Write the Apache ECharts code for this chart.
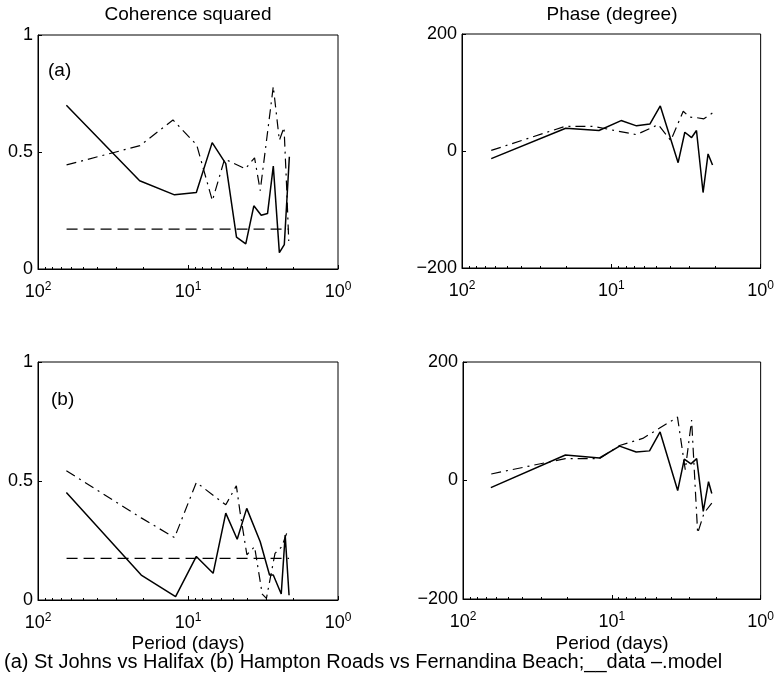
<!DOCTYPE html>
<html>
<head>
<meta charset="utf-8">
<script src="https://cdn.jsdelivr.net/npm/echarts@6/dist/echarts.min.js"></script>
<style>
  html, body { margin: 0; padding: 0; background: #fff; }
  #chart { width: 777px; height: 677px; }
</style>
</head>
<body>
<div id="chart"></div>
<script>
// periods (days) and values
const cohA_dataP = [64.7, 21, 12.3, 8.8, 6.9, 5.6, 4.75, 4.12, 3.64, 3.25, 2.95, 2.7, 2.46, 2.28, 2.11];
const cohA_data = [0.70, 0.377, 0.317, 0.327, 0.54, 0.45, 0.136, 0.107, 0.27, 0.23, 0.237, 0.44, 0.07, 0.104, 0.48];
const cohA_modelP = [64.5, 20.9, 12.6, 8.75, 6.88, 5.7, 4.15, 3.6, 3.3, 2.7, 2.46, 2.29, 2.2, 2.13];
const cohA_model = [0.445, 0.527, 0.637, 0.53, 0.292, 0.47, 0.428, 0.475, 0.335, 0.78, 0.55, 0.605, 0.35, 0.12];

const cohB_dataP = [64.7, 20.5, 12.1, 8.8, 6.8, 5.6, 4.7, 4.06, 3.3, 2.86, 2.7, 2.39, 2.25, 2.12];
const cohB_data = [0.452, 0.105, 0.014, 0.183, 0.112, 0.365, 0.255, 0.385, 0.245, 0.105, 0.105, 0.025, 0.273, 0.02];
const cohB_modelP = [64.7, 20.5, 12.3, 8.8, 5.6, 4.76, 4.5, 4.05, 3.6, 3.2, 3.0, 2.63, 2.37, 2.2];
const cohB_model = [0.543, 0.345, 0.262, 0.494, 0.40, 0.48, 0.37, 0.19, 0.224, 0.025, 0.007, 0.196, 0.224, 0.28];

const sigP = [64.5, 2.12];
const sigA = [0.17, 0.17];
const sigB = [0.175, 0.175];

const phaseA_dataP = [63.7, 20.2, 12.1, 8.6, 6.78, 5.52, 4.7, 3.57, 3.22, 2.9, 2.69, 2.43, 2.25, 2.1];
const phaseA_data = [-13, 39, 35, 52, 43, 46, 77, -20, 32, 23, 35, -71, -5, -24];
const phaseA_modelP = [63.7, 20.5, 13, 9.5, 6.8, 4.85, 4.0, 3.3, 3.0, 2.69, 2.4, 2.1];
const phaseA_model = [1, 42, 42, 35, 28, 45, 18, 68, 58, 57, 55, 65];

const phaseB_dataP = [65, 20.5, 12.1, 8.87, 6.86, 5.58, 4.74, 3.61, 3.26, 2.94, 2.69, 2.43, 2.24, 2.13];
const phaseB_data = [-12, 43, 38, 58, 48, 50, 82, -17, 36, 28, 37, -52, -2, -22];
const phaseB_modelP = [64.6, 20.5, 12.1, 8.87, 6.2, 4.8, 3.62, 3.21, 2.91, 2.65, 2.40, 2.13];
const phaseB_model = [11, 37, 37, 59, 71, 88, 107, 18, 102, -89, -55, -38];

const xTicks = { 100: '2', 10: '1', 1: '0' };

const FONT = '"Liberation Sans", Arial, sans-serif';

function pairs(xs, ys) {
  return xs.map(function (x, i) { return [x, ys[i]]; });
}

const grids = [
  { left: 38, top: 35, width: 300, height: 234 },
  { left: 462, top: 34, width: 299, height: 234 },
  { left: 38, top: 362, width: 300, height: 238 },
  { left: 463, top: 362, width: 299, height: 237 }
];

function xAxisFor(i) {
  return {
    gridIndex: i,
    type: 'log',
    logBase: 10,
    min: 1,
    max: 100,
    inverse: true,
    axisLine: { show: true, onZero: false, lineStyle: { color: '#000', width: 1 } },
    axisTick: { show: true, inside: true, length: 4, lineStyle: { color: '#000' } },
    minorTick: { show: true, splitNumber: 9, length: 2, lineStyle: { color: '#000' } },
    splitLine: { show: false },
    axisLabel: {
      margin: 12,
      color: '#000',
      fontFamily: FONT,
      fontSize: 18,
      formatter: function (v) {
        const e = xTicks[Math.round(v)];
        return e === undefined ? '' : '10{sup|' + e + '}';
      },
      rich: {
        sup: { fontSize: 12, fontFamily: FONT, color: '#000', verticalAlign: 'top', padding: [0, 0, 10, 0] }
      }
    }
  };
}

function yAxisFor(i, min, max, interval) {
  return {
    gridIndex: i,
    type: 'value',
    min: min,
    max: max,
    interval: interval,
    axisLine: { show: true, lineStyle: { color: '#000', width: 1 } },
    axisTick: { show: true, inside: true, length: 4, lineStyle: { color: '#000' } },
    splitLine: { show: false },
    axisLabel: {
      margin: 5,
      color: '#000',
      fontFamily: FONT,
      fontSize: 18,
      formatter: function (v) { return String(v).replace('-', '\u2212'); }
    }
  };
}

function line(i, xs, ys, kind) {
  let type = 'solid';
  if (kind === 'model') type = [10, 5, 2, 5];
  if (kind === 'sig') type = [11, 6];
  return {
    type: 'line',
    xAxisIndex: i,
    yAxisIndex: i,
    data: pairs(xs, ys),
    symbol: 'none',
    animation: false,
    lineStyle: { color: '#000', width: kind === 'data' ? 1.5 : 1.2, type: type }
  };
}

function label(x, y, txt, size, align) {
  return {
    type: 'text', x: x, y: y,
    style: { text: txt, font: size + 'px ' + FONT, fill: '#000', textAlign: align || 'left', textVerticalAlign: 'middle' }
  };
}

const chart = echarts.init(document.getElementById('chart'), null, { renderer: 'canvas' });

chart.setOption({
  backgroundColor: '#fff',
  animation: false,
  grid: grids.map(function (g) {
    return Object.assign({ show: true, borderColor: '#000', borderWidth: 1, backgroundColor: 'transparent' }, g);
  }),
  xAxis: [xAxisFor(0), xAxisFor(1), xAxisFor(2), xAxisFor(3)],
  yAxis: [
    yAxisFor(0, 0, 1, 0.5),
    yAxisFor(1, -200, 200, 200),
    yAxisFor(2, 0, 1, 0.5),
    yAxisFor(3, -200, 200, 200)
  ],
  series: [
    line(0, cohA_dataP, cohA_data, 'data'),
    line(0, cohA_modelP, cohA_model, 'model'),
    line(0, sigP, sigA, 'sig'),
    line(1, phaseA_dataP, phaseA_data, 'data'),
    line(1, phaseA_modelP, phaseA_model, 'model'),
    line(2, cohB_dataP, cohB_data, 'data'),
    line(2, cohB_modelP, cohB_model, 'model'),
    line(2, sigP, sigB, 'sig'),
    line(3, phaseB_dataP, phaseB_data, 'data'),
    line(3, phaseB_modelP, phaseB_model, 'model')
  ],
  graphic: [
    label(188, 15, 'Coherence squared', 19, 'center'),
    label(612, 15, 'Phase (degree)', 19, 'center'),
    label(48, 71, '(a)', 19),
    label(51, 400, '(b)', 19),
    label(188, 644, 'Period (days)', 19, 'center'),
    label(612, 644, 'Period (days)', 19, 'center'),
    label(4, 662, '(a) St Johns vs Halifax (b) Hampton Roads vs Fernandina Beach;__data \u2013.model', 20)
  ]
});
</script>
</body>
</html>
